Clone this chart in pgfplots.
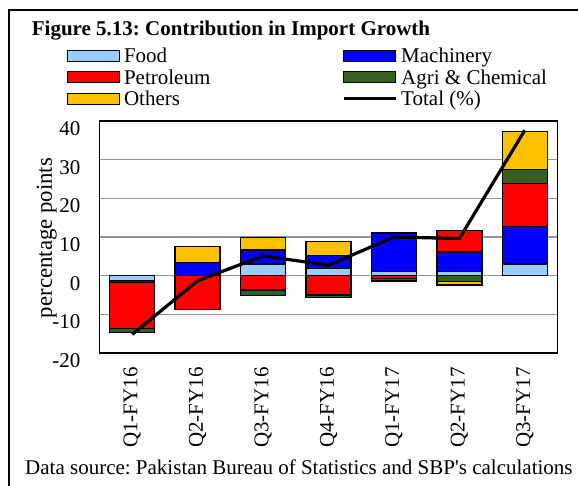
\documentclass[border=0pt]{standalone}
\usepackage{pgfplots}
\pgfplotsset{compat=1.18}
\usepackage{fontspec}
\setmainfont{Liberation Serif}
\definecolor{cFood}{HTML}{99CCFF}
\definecolor{cMach}{HTML}{0000FF}
\definecolor{cPet}{HTML}{FF0000}
\definecolor{cAgri}{HTML}{375F1E}
\definecolor{cOth}{HTML}{FFC000}
\newcommand{\fs}{\fontsize{21}{21}\selectfont}
\pgfplotsset{
  base/.style={scale only axis, width=458pt, height=232pt,
    xmin=-0.5, xmax=6.5, ymin=-20, ymax=40,
    at={(99.5pt,133pt)}, anchor=south west,
    xtick={0,...,6}, ytick={-20,-10,...,40}},
  barsty/.style={fill=#1, draw=black, line width=1.3pt,
    legend image code/.code={\draw[##1, line width=1.3pt] (0pt,-5.5pt) rectangle (52pt,5.5pt);}},
  linesty/.style={sharp plot, black, line width=3.2pt, mark=none,
    legend image code/.code={\draw[##1] (0pt,0pt) -- (52pt,0pt);}},
}
\begin{document}
\frenchspacing
\begin{tikzpicture}
\useasboundingbox (0pt,0pt) rectangle (578pt,486pt);
\draw[line width=1.8pt] (8.7pt,0pt) -- (8.7pt,476pt) -- (578pt,476pt);
\node[anchor=base west, inner sep=0pt, font=\fs\bfseries] at (31.7pt,450pt) {Figure 5.13: Contribution in Import Growth};
\node[anchor=base west, inner sep=0pt, font=\fs] at (25pt,11pt) {Data source: Pakistan Bureau of Statistics and SBP\textquotesingle s calculations};

% negative parts, grid and axis
\begin{axis}[base, ybar stacked, bar width=45pt,
  ymajorgrids, major grid style={color=gray!85, line width=1.3pt},
  major tick length=0pt,
  axis line style={black, line width=1.5pt},
  xticklabels={Q1-FY16,Q2-FY16,Q3-FY16,Q4-FY16,Q1-FY17,Q2-FY17,Q3-FY17},
  yticklabels={-20,-10,0,10,20,30,40},
  ticklabel style={font=\fs, inner sep=0pt},
  xticklabel style={rotate=90, anchor=east},
  xticklabel shift=14pt,
  yticklabel style={anchor=east, yshift=-7.5pt},
  yticklabel shift=19pt,
  ylabel={percentage points},
  ylabel style={font=\fontsize{22.8}{22.8}\selectfont, at={(axis description cs:-0.115,0.496)}, anchor=center},
]
\addplot[barsty=cFood] coordinates {(0,-1.3) (1,0) (2,0) (3,0) (4,0) (5,0) (6,0)};
\addplot[barsty=cMach] coordinates {(0,-0.5) (1,0) (2,0) (3,0) (4,0) (5,0) (6,0)};
\addplot[barsty=cPet]  coordinates {(0,-11.9) (1,-8.7) (2,-3.7) (3,-5.0) (4,-0.8) (5,0) (6,0)};
\addplot[barsty=cAgri] coordinates {(0,-1.0) (1,0) (2,-1.5) (3,-0.6) (4,-0.6) (5,-1.5) (6,0)};
\addplot[barsty=cOth]  coordinates {(0,0) (1,0) (2,0) (3,0) (4,0) (5,-0.9) (6,0)};
\end{axis}

% positive parts and legend
\begin{axis}[base, ybar stacked, bar width=45pt, hide axis,
  legend columns=2,
  legend cell align=left,
  legend style={draw=none, fill=none, at={(axis description cs:-0.0716,1.3246)}, anchor=north west,
    inner sep=0pt, outer sep=0pt, row sep=1.5pt, column sep=4pt, font=\fs,
    nodes={inner sep=0pt, text height=17pt, text depth=3pt}},
]
\addplot[barsty=cFood] coordinates {(0,0) (1,0) (2,3.0) (3,1.9) (4,1.0) (5,1.0) (6,3.0)};
\addlegendentry{\makebox[214pt][l]{Food}}
\addplot[barsty=cMach] coordinates {(0,0) (1,3.4) (2,3.6) (3,3.3) (4,10.0) (5,5.1) (6,9.8)};
\addlegendentry{Machinery}
\addplot[barsty=cPet]  coordinates {(0,0) (1,0) (2,0) (3,0) (4,0) (5,5.6) (6,11.1)};
\addlegendentry{\makebox[214pt][l]{Petroleum}}
\addplot[barsty=cAgri] coordinates {(0,0) (1,0) (2,0) (3,0) (4,0) (5,0) (6,3.5)};
\addlegendentry{Agri \& Chemical}
\addplot[barsty=cOth]  coordinates {(0,0) (1,4.2) (2,3.2) (3,3.6) (4,0) (5,0) (6,9.9)};
\addlegendentry{\makebox[214pt][l]{Others}}
\addlegendimage{linesty}
\addlegendentry{Total (\%)}
\end{axis}

% total line on top
\begin{axis}[base, hide axis]
\addplot[linesty]
  coordinates {(0,-15.2) (1,-1.3) (2,5.1) (3,2.7) (4,10.0) (5,9.6) (6,37.6)};
\end{axis}
\end{tikzpicture}
\end{document}
